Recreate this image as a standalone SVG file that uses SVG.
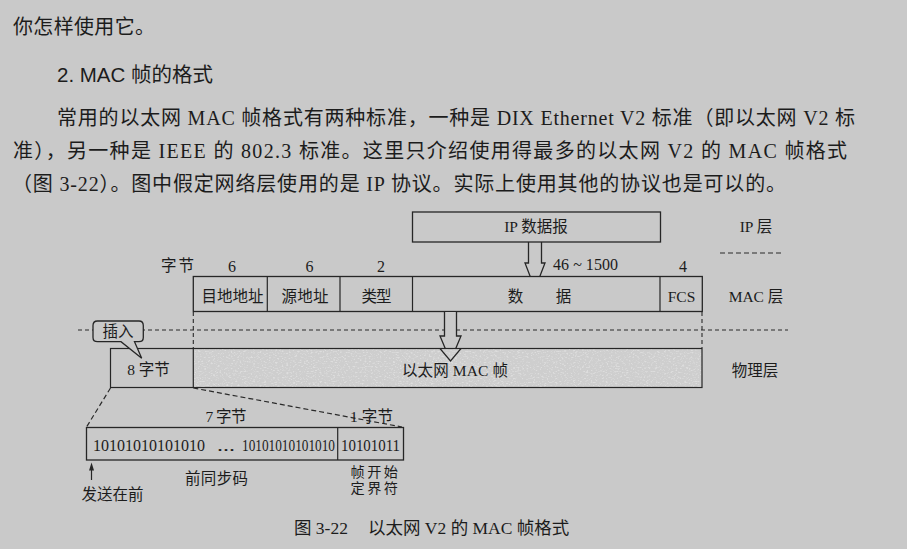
<svg xmlns="http://www.w3.org/2000/svg" width="907" height="549" viewBox="0 0 907 549">
  <style>
    .body { font-family: "Liberation Serif", "Noto Sans CJK SC", serif; font-size: 20px; fill: #1c1c1c; }
    .head { font-family: "Liberation Sans", "Noto Sans CJK SC", sans-serif; font-size: 20px; fill: #1c1c1c; }
    .lbl { font-family: "Liberation Serif", "Noto Sans CJK SC", serif; font-size: 15.5px; fill: #1c1c1c; }
    .sm { font-size: 14.2px; }
    .num { font-family: "Liberation Serif", "Noto Sans CJK SC", serif; font-size: 16px; fill: #1c1c1c; }
    .bits { font-family: "Liberation Serif", serif; font-size: 17px; fill: #1c1c1c; }
    .cap { font-family: "Liberation Serif", "Noto Sans CJK SC", serif; font-size: 17.5px; fill: #1c1c1c; }
    .c { text-anchor: middle; }
    .box { fill: #c9c9c9; stroke: #262626; stroke-width: 1.3; }
    .ln { fill: none; stroke: #262626; stroke-width: 1.2; }
    .dash { fill: none; stroke: #2a2a2a; stroke-width: 1.1; stroke-dasharray: 4 3; }
    .dashL { fill: none; stroke: #2a2a2a; stroke-width: 1.2; stroke-dasharray: 5 3; }
    .hollow { fill: #c9c9c9; stroke: #262626; stroke-width: 1.3; stroke-linejoin: miter; }
  </style>
  <defs>
    <filter id="grain" x="0" y="0" width="100%" height="100%">
      <feTurbulence type="fractalNoise" baseFrequency="0.45 0.8" numOctaves="2" seed="7" result="noise"/>
      <feColorMatrix in="noise" type="matrix" values="0 0 0 0 0.72  0 0 0 0 0.72  0 0 0 0 0.72  5 0 0 0 -2.65" result="speck"/>
      <feComposite in="speck" in2="SourceGraphic" operator="in"/>
    </filter>
  </defs>

  <!-- page -->
  <rect x="0" y="0" width="907" height="549" fill="#c9c9c9"/>

  <!-- running text -->
  <g id="prose">
    <text class="body" x="13" y="34" textLength="142" lengthAdjust="spacing">你怎样使用它。</text>
    <text class="head" x="57" y="82" textLength="156" lengthAdjust="spacingAndGlyphs">2. MAC 帧的格式</text>
    <text class="body" x="57" y="125" textLength="798" lengthAdjust="spacing">常用的以太网 MAC 帧格式有两种标准，一种是 DIX Ethernet V2 标准（即以太网 V2 标</text>
    <text class="body" x="13" y="158" textLength="834" lengthAdjust="spacing">准），另一种是 IEEE 的 802.3 标准。这里只介绍使用得最多的以太网 V2 的 MAC 帧格式</text>
    <text class="body" x="12" y="191" textLength="774" lengthAdjust="spacing">（图 3-22）。图中假定网络层使用的是 IP 协议。实际上使用其他的协议也是可以的。</text>
  </g>

  <!-- layer names on the right -->
  <g id="layers">
    <text class="lbl" x="756" y="232" text-anchor="middle">IP 层</text>
    <text class="lbl" x="756" y="302" text-anchor="middle">MAC 层</text>
    <text class="lbl" x="755" y="376" text-anchor="middle">物理层</text>
  </g>

  <!-- connectors: guides, dashed boundaries, hollow arrows -->
  <g id="connectors">
    <line class="dashL" x1="720" y1="253" x2="784" y2="253" stroke-dasharray="7 3.5"/>
    <line class="dash" x1="78" y1="330" x2="788" y2="330"/>
    <line class="dash" x1="193.3" y1="312" x2="193.3" y2="348"/>
    <line class="dash" x1="702" y1="312" x2="702" y2="348"/>
    <line class="dashL" x1="110.5" y1="388" x2="86.5" y2="427"/>
    <line class="dashL" x1="193.3" y1="388" x2="402" y2="427"/>
    <path class="hollow" d="M528.5,242 V263 H525 L535,289 L545,263 H541.5 V242"/>
    <line class="ln" x1="91.5" y1="480" x2="91.5" y2="469"/>
    <polygon points="89,470.5 91.5,462.5 94,470.5" fill="#262626"/>
  </g>

  <!-- IP datagram -->
  <g id="ip-datagram">
    <rect class="box" x="412.5" y="212" width="248" height="30"/>
    <text class="lbl c" x="536" y="232">IP 数据报</text>
  </g>

  <!-- byte counts above the MAC frame -->
  <g id="byte-counts">
    <text class="lbl" x="161" y="271" textLength="33" lengthAdjust="spacing">字节</text>
    <text class="num c" x="232" y="272">6</text>
    <text class="num c" x="309.5" y="272">6</text>
    <text class="num c" x="381" y="272">2</text>
    <text class="num" x="553" y="270" textLength="65" lengthAdjust="spacing">46 ~ 1500</text>
    <text class="num c" x="683" y="272">4</text>
  </g>

  <!-- MAC frame -->
  <g id="mac-frame">
    <rect class="box" x="193.3" y="276.5" width="509" height="35"/>
    <line class="ln" x1="267.3" y1="276.5" x2="267.3" y2="311.5"/>
    <line class="ln" x1="340" y1="276.5" x2="340" y2="311.5"/>
    <line class="ln" x1="412.5" y1="276.5" x2="412.5" y2="311.5"/>
    <line class="ln" x1="660" y1="276.5" x2="660" y2="311.5"/>
    <text class="lbl c" x="232.5" y="302" textLength="62" lengthAdjust="spacing">目地地址</text>
    <text class="lbl c" x="305" y="302" textLength="47" lengthAdjust="spacing">源地址</text>
    <text class="lbl c" x="376.5" y="302" textLength="30" lengthAdjust="spacing">类型</text>
    <text class="lbl c" x="515.5" y="302">数</text>
    <text class="lbl c" x="563.5" y="302">据</text>
    <text class="lbl c" x="681.5" y="302">FCS</text>
  </g>

  <!-- arrow from MAC frame into the physical layer -->
  <path class="hollow" d="M444.5,312 V336 H440 L450.5,361 L461,336 H456.5 V312"/>

  <!-- physical layer frame -->
  <g id="phys-frame">
    <rect x="193.3" y="348.5" width="508.7" height="39" fill="#cecece"/>
    <rect x="193.3" y="348.5" width="508.7" height="39" fill="#000" filter="url(#grain)"/>
    <path class="ln" d="M440,348.5 L450.5,361 L461,348.5" stroke-width="1.3"/>
    <rect x="110.5" y="348.5" width="591.5" height="39" class="ln" stroke-width="1.3"/>
    <line class="ln" x1="193.3" y1="348.5" x2="193.3" y2="387.5"/>
    <text class="lbl c" x="148.5" y="375">8 字节</text>
    <text class="lbl" x="402" y="376" textLength="106" lengthAdjust="spacing">以太网 MAC 帧</text>
  </g>

  <!-- insertion callout -->
  <g id="insert-callout">
    <path class="box" d="M97.5,321 H139 Q143.3,321 143.3,325.5 V337.5 Q143.3,341.7 139,341.7 H134.5 L141.7,358.3 L121,341.7 H97.5 Q93,341.7 93,337.5 V325.5 Q93,321 97.5,321 Z"/>
    <text class="lbl c" x="118" y="337">插入</text>
  </g>

  <!-- preamble and start frame delimiter -->
  <g id="preamble">
    <text class="lbl" x="205.5" y="422" textLength="41" lengthAdjust="spacing">7 字节</text>
    <text class="lbl" x="350" y="422" textLength="43" lengthAdjust="spacing">1 字节</text>
    <rect class="box" x="86.5" y="427.5" width="317" height="32.5"/>
    <line class="ln" x1="337.7" y1="427.5" x2="337.7" y2="460"/>
    <text class="bits" x="93" y="451" textLength="112" lengthAdjust="spacingAndGlyphs">10101010101010</text>
    <text class="bits" x="217" y="451" textLength="18" lengthAdjust="spacingAndGlyphs">...</text>
    <text class="bits" x="242" y="451" textLength="93" lengthAdjust="spacingAndGlyphs">10101010101010</text>
    <text class="bits" x="341" y="451" textLength="59" lengthAdjust="spacingAndGlyphs">10101011</text>
    <text class="lbl" x="185" y="484" textLength="63" lengthAdjust="spacing">前同步码</text>
    <text class="lbl sm" x="350.5" y="476.5" textLength="47.5" lengthAdjust="spacing">帧开始</text>
    <text class="lbl sm" x="350.5" y="492.5" textLength="47.5" lengthAdjust="spacing">定界符</text>
    <text class="lbl" x="81.5" y="500" textLength="62" lengthAdjust="spacing">发送在前</text>
  </g>

  <!-- figure caption -->
  <g id="caption">
    <text class="cap" x="294" y="534">图 3-22</text>
    <text class="cap" x="368" y="534">以太网 V2 的 MAC 帧格式</text>
  </g>
</svg>
